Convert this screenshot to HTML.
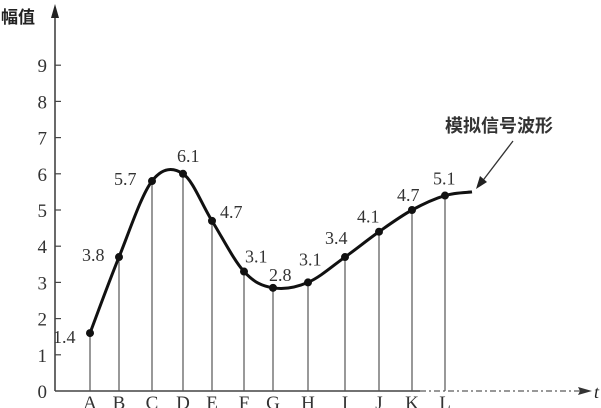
<!DOCTYPE html>
<html><head><meta charset="utf-8"><style>
html,body{margin:0;padding:0;background:#fff;}
svg{display:block;font-family:"Liberation Serif","Noto Serif CJK SC",serif;}
</style></head><body>
<svg id="chart" width="601" height="408" viewBox="0 0 601 408"></svg>
<script>
const categories=["A","B","C","D","E","F","G","H","I","J","K","L"];
const plotted=[1.6,3.7,5.8,6.0,4.7,3.3,2.85,3.0,3.7,4.4,5.0,5.4];
const printed=["1.4","3.8","5.7","6.1","4.7","3.1","2.8","3.1","3.4","4.1","4.7","5.1"];
const xPositions=[90,119,152,183,212,244,273,308,345,379,412,445];
const yTicks=[0,1,2,3,4,5,6,7,8,9];
const NS="http://www.w3.org/2000/svg";
const svg=document.getElementById("chart");
function y(v){return 391-v*36.2;}
function x(i){return xPositions[i];}
function mk(t,a,txt){const e=document.createElementNS(NS,t);for(const k in a)e.setAttribute(k,a[k]);if(txt!==undefined)e.textContent=txt;svg.appendChild(e);return e;}
let e=mk("line",{x1:55,y1:391,x2:420,y2:391,stroke:"#444","stroke-width":1.6});


e=mk("line",{x1:420,y1:391,x2:582,y2:391,stroke:"#777","stroke-width":1.4,"stroke-dasharray":"6,3,2,3"});


e=mk("polygon",{points:"592,391 578,387 580,391 578,395",fill:"#333"});


e=mk("text",{x:594,y:398,"font-size":18,"font-style":"italic",fill:"#222"},"t");


e=mk("line",{x1:55,y1:391,x2:55,y2:14,stroke:"#444","stroke-width":1.6});


e=mk("polygon",{points:"55,4 51,18 59,18",fill:"#222"});


e=mk("text",{x:1,y:23,"font-size":17,"font-weight":"bold",fill:"#222","font-family":"Noto Sans CJK SC, sans-serif"},"幅值");


yTicks.forEach(v=>{
  if(v>0){const t=mk("line",{x1:55,y1:y(v),x2:61,y2:y(v),stroke:"#444","stroke-width":1.2});
  
  }
  const l=mk("text",{x:47,y:y(v)+7,"font-size":19,"text-anchor":"end",fill:"#333"},String(v));
  
  
});
categories.forEach((c,i)=>{
  const s=mk("line",{x1:x(i),y1:y(plotted[i]),x2:x(i),y2:391,stroke:"#555","stroke-width":1.2});
  
  
  const l=mk("text",{x:x(i),y:409,"font-size":19,"text-anchor":"middle",fill:"#333"},c);
  
  
});
const pts=categories.map((c,i)=>[x(i),y(plotted[i])]);
pts.push([472,y(5.5)]);
let d="M"+pts[0][0]+","+pts[0][1];
for(let i=0;i<pts.length-1;i++){
  const p0=pts[Math.max(0,i-1)],p1=pts[i],p2=pts[i+1],p3=pts[Math.min(pts.length-1,i+2)];
  const c1=[p1[0]+(p2[0]-p0[0])/6,p1[1]+(p2[1]-p0[1])/6];
  const c2=[p2[0]-(p3[0]-p1[0])/6,p2[1]-(p3[1]-p1[1])/6];
  d+=` C${c1[0]},${c1[1]} ${c2[0]},${c2[1]} ${p2[0]},${p2[1]}`;
}
e=mk("path",{d:d,fill:"none",stroke:"#111","stroke-width":3});


const labelOff=[[-37,10],[-37,4],[-38,4],[-6,-12],[8,-3],[1,-9],[-4,-7],[-9,-17],[-20,-13],[-22,-9],[-15,-9],[-12,-11]];
categories.forEach((c,i)=>{
  const p=mk("circle",{cx:x(i),cy:y(plotted[i]),r:4,fill:"#111"});
  
  
  const t=mk("text",{x:x(i)+labelOff[i][0],y:y(plotted[i])+labelOff[i][1],"font-size":18,fill:"#333"},printed[i]);
  
  
});
e=mk("line",{x1:513,y1:141,x2:481,y2:183,stroke:"#333","stroke-width":1.3});


e=mk("polygon",{points:"476,189 480,176 487,182",fill:"#222"});


e=mk("text",{x:445,y:132,"font-size":18,"font-weight":"bold",fill:"#333","font-family":"Noto Sans CJK SC, sans-serif"},"模拟信号波形");


</script>
</body></html>
